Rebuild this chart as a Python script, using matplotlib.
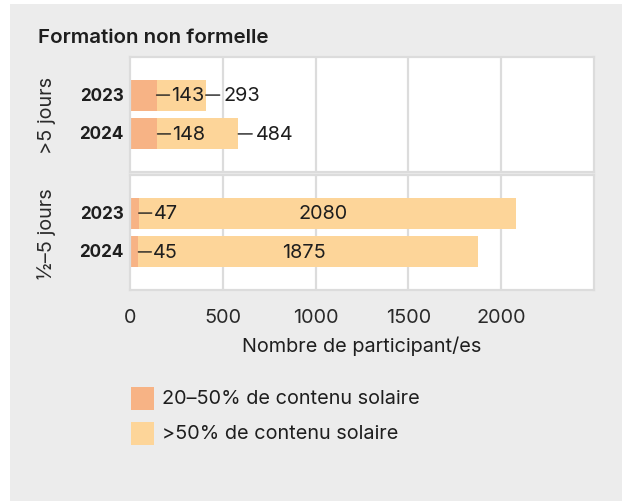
import matplotlib
matplotlib.use("Agg")
import matplotlib.pyplot as plt
from matplotlib.patches import Rectangle

plt.rcParams['font.family'] = ['Inter', 'DejaVu Sans']

# ---- data ----
groups = [">5 jours", "½–5 jours"]
years = ["2023", "2024"]
# 20-50% solar content (dark segment)
low_share = {">5 jours": [143, 148], "½–5 jours": [47, 45]}
# >50% solar content (label values)
high_share = {">5 jours": [293, 484], "½–5 jours": [2080, 1875]}
# bar end as drawn in the reference
bar_total = {">5 jours": [408, 583], "½–5 jours": [2080, 1875]}
xticks = [0, 500, 1000, 1500, 2000]
xlabel = "Nombre de participant/es"
title = "Formation non formelle"
legend_labels = ["20–50% de contenu solaire", ">50% de contenu solaire"]

# ---- style ----
W, H = 622, 502
C_DARK = "#f7b385"
C_LIGHT = "#fdd599"
BG = "#ececec"
GRID = "#dcdcdc"
TXT = "#1e1e1e"
FS = 14.3
FW = "normal"

fig = plt.figure(figsize=(W / 100, H / 100), dpi=100)
fig.patch.set_facecolor("white")
fig.patches.append(Rectangle((10 / W, 0), 1 - 10 / W, 1 - 5 / H,
                             transform=fig.transFigure, facecolor=BG,
                             edgecolor="none", zorder=-10))

def fx(x):
    return x / W

def fy(y):
    return 1 - y / H

panels = [(58, 173), (176, 291)]
left, right = 130, 594
label_mode = {">5 jours": "outside", "½–5 jours": "center"}

for g, (top, bot) in zip(groups, panels):
    ax = fig.add_axes([fx(left), fy(bot), fx(right - left), (bot - top) / H])
    ax.set_facecolor("white")
    ax.set_xlim(0, 2500)
    ax.set_ylim(1.98, -0.98)
    for s in ax.spines.values():
        s.set_color(GRID)
        s.set_linewidth(1.6)
    for xv in xticks[1:]:
        ax.axvline(xv, color=GRID, lw=1.6, zorder=0)
    ax.set_yticks([])
    ax.set_xticks(xticks)
    ax.tick_params(axis="x", length=0, labelsize=FS, colors="#2a2a2a", pad=13)
    for t in ax.get_xticklabels():
        t.set_fontweight(FW)
    if g == groups[0]:
        ax.tick_params(labelbottom=False)
    else:
        ax.set_xlabel(xlabel, fontsize=FS, color=TXT, labelpad=7,
                      fontweight=FW)

    lows = low_share[g]
    highs = high_share[g]
    tots = bar_total[g]
    ypos = list(range(len(years)))
    ax.barh(ypos, lows, height=0.8, color=C_DARK, zorder=2)
    ax.barh(ypos, [t - l for t, l in zip(tots, lows)], left=lows,
            height=0.8, color=C_LIGHT, zorder=2)

    for yi, (lo, hi, tot, yr) in enumerate(zip(lows, highs, tots, years)):
        # year label
        ax.annotate(yr, xy=(0, yi), xytext=(-6, 0), textcoords="offset pixels",
                    ha="right", va="center", fontsize=12.3, fontweight="bold",
                    color=TXT, annotation_clip=False)
        # dark segment label with leader
        ax.annotate("", xy=(lo, yi), xytext=(13, 0), textcoords="offset pixels",
                    arrowprops=dict(arrowstyle="-", color=TXT, lw=1.0,
                                    shrinkA=0, shrinkB=0), zorder=4)
        ax.annotate(str(lo), xy=(lo, yi), xytext=(15, 0),
                    textcoords="offset pixels", ha="left", va="center",
                    fontsize=FS, fontweight=FW, color=TXT, zorder=4)
        if label_mode[g] == "outside":
            ax.annotate("", xy=(tot, yi), xytext=(14, 0),
                        textcoords="offset pixels",
                        arrowprops=dict(arrowstyle="-", color=TXT, lw=1.0,
                                        shrinkA=0, shrinkB=0), zorder=4)
            ax.annotate(str(hi), xy=(tot, yi), xytext=(18, 0),
                        textcoords="offset pixels", ha="left", va="center",
                        fontsize=FS, fontweight=FW, color=TXT, zorder=4)
        else:
            ax.text(tot / 2, yi, str(hi), ha="center", va="center",
                    fontsize=FS, fontweight=FW, color=TXT, zorder=4)

    fig.text(fx(47), fy((top + bot) / 2), g, rotation=90, ha="center",
             va="center", fontsize=FS, fontweight=FW, color="#2a2a2a")

# title
fig.text(fx(38), fy(38), title, ha="left", va="center", fontsize=14.8,
         fontweight="semibold", color=TXT)

# legend
for i, (lab, col) in enumerate(zip(legend_labels, [C_DARK, C_LIGHT])):
    y0 = 388 + i * 35
    fig.patches.append(Rectangle((fx(131), fy(y0 + 23)), 23 / W, 23 / H,
                                 transform=fig.transFigure, facecolor=col,
                                 edgecolor="none"))
    fig.text(fx(162), fy(y0 + 11.5), lab, ha="left", va="center",
             fontsize=FS, fontweight=FW, color=TXT)

fig.savefig("out.png", dpi=100, facecolor=fig.get_facecolor())
